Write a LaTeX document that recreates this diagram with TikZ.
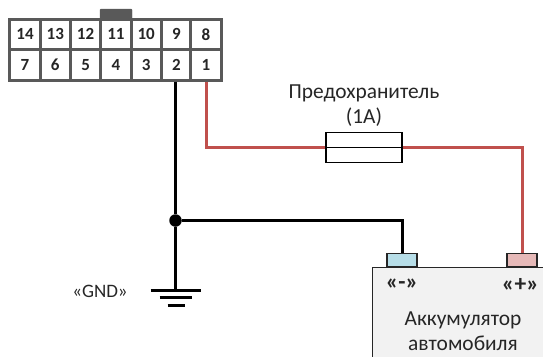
\documentclass[tikz,border=0pt]{standalone}
\usepackage{fontspec}
\setmainfont{Carlito}
\definecolor{conngray}{HTML}{595959}
\definecolor{wirered}{HTML}{C0504D}
\definecolor{battfill}{HTML}{F2F2F2}
\definecolor{minusfill}{HTML}{B7DEE8}
\definecolor{plusfill}{HTML}{E6B9B8}
\definecolor{txt}{HTML}{262626}
\tikzset{
  pin/.style={draw=conngray,line width=3pt,fill=white,minimum width=30.3pt,minimum height=30.6pt,inner sep=0pt,font=\fontsize{17}{17}\selectfont\bfseries,text=txt},
  wireblack/.style={draw=black,line width=3pt},
  wirer/.style={draw=wirered,line width=3pt},
  term/.style={draw=txt,line width=1.3pt,minimum width=30pt,minimum height=13.5pt,inner sep=0pt},
  lab/.style={font=\fontsize{21.4}{25.5}\selectfont,text=txt,inner sep=0pt,align=center},
  tlab/.style={font=\fontsize{23.5}{23.5}\selectfont\bfseries,text=txt,inner sep=0pt},
}
\begin{document}
\begin{tikzpicture}[x=1pt,y=-1pt]
\useasboundingbox (0,0) rectangle (543,356);
\clip (0,0) rectangle (543,356);
% connector
\node[draw=conngray,fill=conngray,rounded corners=1pt,minimum width=32pt,minimum height=10pt,inner sep=0pt] (notch) at (116,14) {};
\foreach \n/\cx in {14/25,13/55.3,12/85.6,11/115.9,10/146.2,9/176.5,8/206}
  \node[pin] (p\n) at (\cx,34.3) {\n};
\foreach \n/\cx in {7/25,6/55.3,5/85.6,4/115.9,3/146.2,2/176.5,1/206}
  \node[pin] (p\n) at (\cx,64.9) {\n};
% battery
\node[draw=txt,line width=1.2pt,fill=battfill,minimum width=200pt,minimum height=120pt,anchor=north west,inner sep=0pt] (batt) at (372,266.5) {};
\node[term,fill=minusfill] (tminus) at (402,260) {};
\node[term,fill=plusfill] (tplus) at (522,260) {};
\node[tlab] (lminus) at (402,284) {«-»};
\node[tlab] (lplus) at (520.5,285) {«+»};
\node[lab] (lbatt) at (463,331) {Аккумулятор\\автомобиля};
% fuse
\node[draw=black,line width=1.2pt,fill=white,minimum width=76pt,minimum height=30pt,inner sep=0pt] (fuse) at (364,147.3) {};
\node[lab] (lfuse) at (364,105.5) {Предохранитель\\(1А)};
% junction and ground
\coordinate (gnd) at (175.5,290);
\node[circle,fill=black,minimum size=12.5pt,inner sep=0pt] (junc) at (175.5,220.5) {};
\coordinate (g1l) at (150.5,290); \coordinate (g1r) at (201,290);
\coordinate (g2l) at (159.5,297.5); \coordinate (g2r) at (192,297.5);
\coordinate (g3l) at (167.5,305); \coordinate (g3r) at (185,305);
\node[lab,font=\fontsize{19}{19}\selectfont] (lgnd) at (100,291) {«GND»};
% wires
\draw[wireblack] (p2.south -| junc) -- (junc);
\draw[wireblack] (junc) -- (gnd);
\draw[wireblack] (junc) -| (tminus.north);
\draw[wireblack] (g1l) -- (g1r);
\draw[wireblack] (g2l) -- (g2r);
\draw[wireblack] (g3l) -- (g3r);
\draw[wirer] (p1.south) |- (fuse.west);
\draw[wirer] (fuse.east) -| (tplus.north);
\draw[draw=black,line width=1.2pt] (fuse.west) -- (fuse.east);
\end{tikzpicture}
\end{document}
